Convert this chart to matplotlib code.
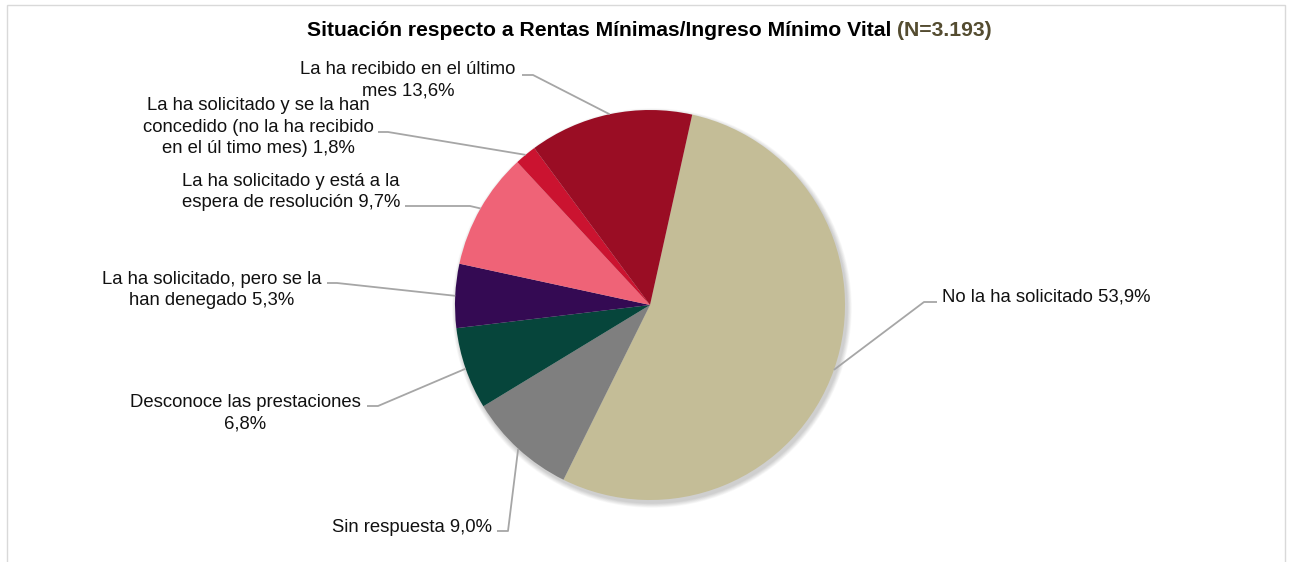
import matplotlib
matplotlib.use("Agg")
import matplotlib.pyplot as plt
import numpy as np
from matplotlib.patches import Circle, Rectangle

plt.rcParams['font.family'] = ['Liberation Sans', 'DejaVu Sans']

# ---- data (clockwise order) ----
categories = [
    "No la ha solicitado",
    "Sin respuesta",
    "Desconoce las prestaciones",
    "La ha solicitado, pero se la han denegado",
    "La ha solicitado y está a la espera de resolución",
    "La ha solicitado y se la han concedido (no la ha recibido en el úl timo mes)",
    "La ha recibido en el último mes",
]
values = [53.9, 9.0, 6.8, 5.3, 9.7, 1.8, 13.6]
label_texts = [
    "No la ha solicitado 53,9%",
    "Sin respuesta 9,0%",
    "Desconoce las prestaciones\n6,8%",
    "La ha solicitado, pero se la\nhan denegado 5,3%",
    "La ha solicitado y está a la\nespera de resolución 9,7%",
    "La ha solicitado y se la han\nconcedido (no la ha recibido\nen el úl timo mes) 1,8%",
    "La ha recibido en el último\nmes 13,6%",
]
colors = ["#C4BD97", "#7F7F7F", "#06453B", "#340A53", "#EF6377", "#CB1330", "#9A0D24"]
title_main = "Situación respecto a Rentas Mínimas/Ingreso Mínimo Vital "
title_n = "(N=3.193)"

# ---- layout (pixel coordinates) ----
W, H = 1292, 562
cx, cy, R = 650, 305, 195
start_angle = 77.5
# label: (text x, text y, ha, leader y, elbow x, text-side x)
label_layout = [
    (942, 297, 'left', 302, 924, 937),
    (492, 527, 'right', 531, 508, 497),
    (245, 413, 'center', 406, 378, 367),
    (212, 290, 'center', 283, 337, 327),
    (291, 192, 'center', 206, 470, 405),
    (258, 127, 'center', 132, 388, 378),
    (408, 80, 'center', 75, 533, 522),
]

fig = plt.figure(figsize=(W / 100, H / 100), dpi=100)
ax = fig.add_axes([0, 0, 1, 1])
ax.set_xlim(0, W)
ax.set_ylim(H, 0)
ax.set_aspect('equal')
ax.axis('off')

# frame
fig.patches.append(Rectangle((7 / W, -0.01), (1285 - 7) / W, (H - 5) / H + 0.01,
                             transform=fig.transFigure, fill=False,
                             edgecolor='#D9D9D9', linewidth=1.0))

# soft shadow
for i in range(8, 0, -1):
    ax.add_patch(Circle((cx + 2, cy + 3), R + i * 0.6, facecolor='black',
                        alpha=0.025, edgecolor='none', zorder=1))

# pie (y axis inverted -> counterclock=True appears clockwise)
wedges, _ = ax.pie(values, colors=colors, startangle=-start_angle,
                   counterclock=True, center=(cx, cy), radius=R,
                   wedgeprops=dict(linewidth=0, zorder=2), frame=True)
ax.set_xlim(0, W)
ax.set_ylim(H, 0)
ax.axis('off')

for w, txt, (tx, ty, ha, ly, ex, sx) in zip(wedges, label_texts, label_layout):
    mid = np.deg2rad((w.theta1 + w.theta2) / 2)
    px = cx + R * np.cos(mid)
    py = cy + R * np.sin(mid)
    ax.plot([sx, ex, px], [ly, ly, py], color='#A6A6A6', lw=1.3, zorder=3,
            solid_capstyle='butt')
    ax.text(tx, ty, txt, ha=ha, va='center', fontsize=13.3, color='#111111',
            linespacing=1.32, multialignment='center', zorder=4)

# title in two colours
fig.canvas.draw()
r = fig.canvas.get_renderer()
t1 = ax.text(0, 31, title_main, fontsize=15.2, fontweight='bold', color='black',
             ha='left', va='center')
t2 = ax.text(0, 31, title_n, fontsize=15.2, fontweight='bold', color='#544C30',
             ha='left', va='center')
w1 = t1.get_window_extent(r).width
w2 = t2.get_window_extent(r).width
x0 = 649 - (w1 + w2) / 2
t1.set_x(x0)
t2.set_x(x0 + w1)

fig.savefig("out.png", dpi=100, facecolor='white')
